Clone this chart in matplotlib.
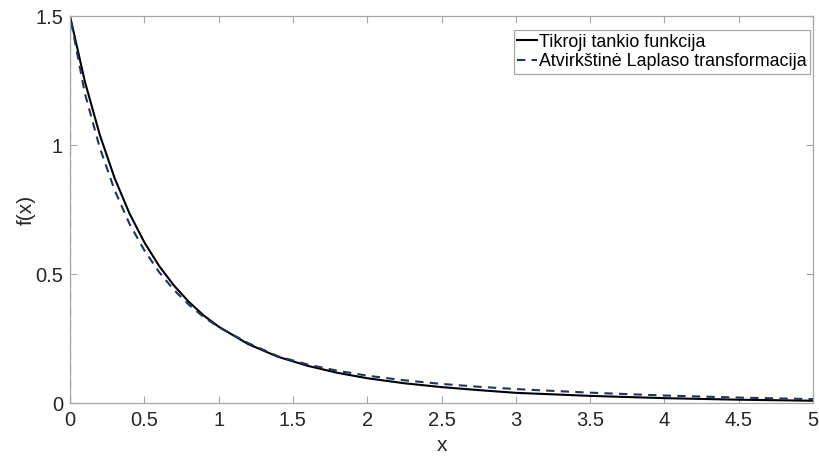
import matplotlib
matplotlib.use('Agg')
import matplotlib.pyplot as plt

plt.rcParams['font.family'] = ['Liberation Sans', 'DejaVu Sans']

# Tikroji tankio funkcija
x_true = [0, 0.1, 0.2, 0.3, 0.4, 0.5, 0.6, 0.7, 0.8, 0.9, 1.0, 1.2, 1.4, 1.6, 1.8,
          2.0, 2.25, 2.5, 2.75, 3.0, 3.5, 4.0, 4.5, 5.0]
y_true = [1.5, 1.246, 1.040, 0.872, 0.735, 0.623, 0.531, 0.455, 0.392, 0.339, 0.296,
          0.228, 0.179, 0.144, 0.117, 0.096, 0.0765, 0.0616, 0.050, 0.0394, 0.0276,
          0.0188, 0.0128, 0.0088]

# Atvirkstine Laplaso transformacija (skaitine)
x_inv = [0, 0, 0.1, 0.2, 0.3, 0.4, 0.5, 0.6, 0.7, 0.8, 0.9, 1.0, 1.2, 1.4, 1.6, 1.8,
         2.0, 2.25, 2.5, 2.75, 3.0, 3.5, 4.0, 4.5, 5.0]
y_inv = [0, 1.5, 1.20, 0.99, 0.825, 0.695, 0.592, 0.507, 0.438, 0.381, 0.333, 0.294,
         0.232, 0.181, 0.149, 0.125, 0.106, 0.088, 0.074, 0.063, 0.054, 0.040,
         0.029, 0.021, 0.015]

xticks = [0, 0.5, 1, 1.5, 2, 2.5, 3, 3.5, 4, 4.5, 5]
yticks = [0, 0.5, 1, 1.5]

fig = plt.figure(figsize=(8.19, 4.59), dpi=100)
ax = fig.add_axes([0.0855, 0.122, 0.9072, 0.843])

ax.plot(x_true, y_true, color='black', lw=1.5, label='Tikroji tankio funkcija')
ax.plot(x_inv, y_inv, color='#1f3466', lw=1.5, ls=(0, (4, 3)),
        label='Atvirkštinė Laplaso transformacija')

ax.set_xlim(0, 5)
ax.set_ylim(0, 1.5)
ax.set_xticks(xticks)
ax.set_xticklabels([f'{t:g}' for t in xticks])
ax.set_yticks(yticks)
ax.set_yticklabels([f'{t:g}' for t in yticks])
ax.tick_params(direction='in', length=5, width=0.8, colors='#a6a6a6',
               labelcolor='#262626', labelsize=14.5, top=True, right=True)
ax.tick_params(axis='x', pad=6)
ax.tick_params(axis='y', pad=5)
for s in ax.spines.values():
    s.set_color('#a6a6a6')
    s.set_linewidth(0.9)
    s.set_zorder(5)

ax.set_xlabel('x', fontsize=15, color='#262626', labelpad=4)
ax.set_ylabel('f(x)', fontsize=15, color='#262626', labelpad=-0.5)

leg = ax.legend(loc='upper right', bbox_to_anchor=(0.996, 0.964), borderaxespad=0,
                fontsize=12.9, handlelength=1.1, handletextpad=0.1,
                borderpad=0.2, labelspacing=0.15, fancybox=False, framealpha=1)
leg.get_frame().set_edgecolor('#a6a6a6')
leg.get_frame().set_linewidth(0.9)

fig.savefig('out.png', dpi=100)
